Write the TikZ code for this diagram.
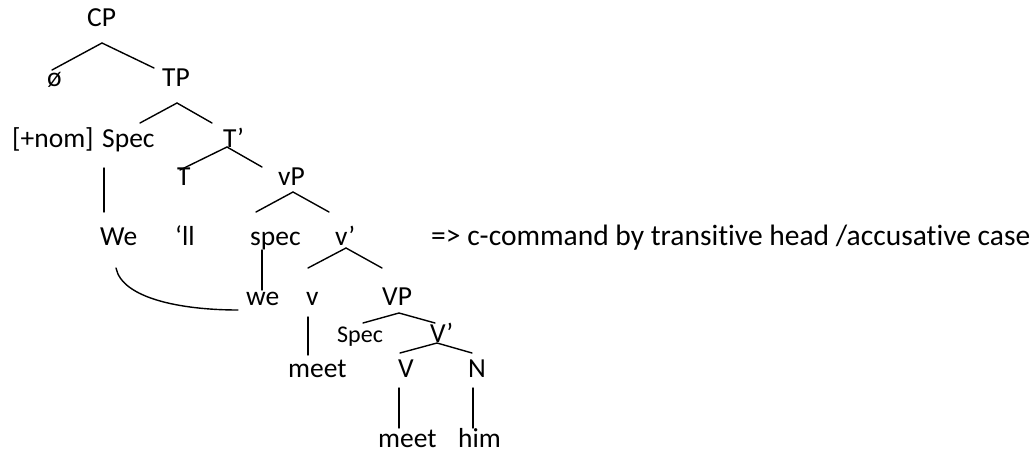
\documentclass[tikz,border=0pt]{standalone}
\usepackage{fontspec}
\setmainfont{Carlito}[Ligatures={NoCommon,TeX}]
\begin{document}
\begin{tikzpicture}[x=1pt,y=-1pt,
  lbl/.style={anchor=base west,inner sep=0pt,font=\fontsize{27.5}{32}\selectfont},
  nlbl/.style={anchor=base west,inner sep=0pt,font=\fontsize{29.5}{34}\selectfont},
  slbl/.style={anchor=base west,inner sep=0pt,font=\fontsize{24}{28}\selectfont},
  br/.style={line width=1.4pt,line cap=round}]
\useasboundingbox (0,0) rectangle (1034,452);
% labels
\node[lbl] (CP) at (87,27) {CP};
\node[lbl] (empty) at (47,87) {ø};
\node[lbl] (TP) at (162,87) {TP};
\node[lbl] (nom) at (12,147) {[+nom]};
\node[lbl] (Spec) at (102,147) {Spec};
\node[lbl] (Tbar) at (223,147) {T’};
\node[lbl] (T) at (177,185) {T};
\node[lbl] (vP) at (278,185) {vP};
\node[lbl] (We) at (100,245) {We};
\node[lbl] (ll) at (175,245) {‘ll};
\node[lbl] (spec) at (250,245) {spec};
\node[lbl] (vbar) at (335,245) {v’};
\node[nlbl] (note) at (431,245) {=> c-command by transitive head /accusative case};
\node[lbl] (we) at (246,305) {we};
\node[lbl] (v) at (306,305) {v};
\node[lbl] (VP) at (382,305) {VP};
\node[slbl] (Spec2) at (337,342) {Spec};
\node[lbl] (Vbar) at (430,342) {V’};
\node[lbl] (meet1) at (288,377) {meet};
\node[lbl] (V) at (398,377) {V};
\node[lbl] (N) at (468,377) {N};
\node[lbl] (meet2) at (378,447) {meet};
\node[lbl] (him) at (458,447) {him};
% branch points
\coordinate (cpA) at (102,43);  \coordinate (cpL) at (52,70);   \coordinate (cpR) at (154,68);
\coordinate (tpA) at (177,103); \coordinate (tpL) at (140,123); \coordinate (tpR) at (212,123);
\coordinate (tbA) at (227,147); \coordinate (tbL) at (180,170); \coordinate (tbR) at (262,167);
\coordinate (spT) at (104,168); \coordinate (spB) at (104,212);
\coordinate (vpA) at (293,192); \coordinate (vpL) at (256,212); \coordinate (vpR) at (329,212);
\coordinate (sT) at (262,250);  \coordinate (sB) at (262,290);
\coordinate (vbA) at (346,248); \coordinate (vbL) at (308,268); \coordinate (vbR) at (382,268);
\coordinate (VPA) at (399,313); \coordinate (VPL) at (363,323); \coordinate (VPR) at (435,323);
\coordinate (VbA) at (437,343); \coordinate (VbL) at (400,353); \coordinate (VbR) at (472,353);
\coordinate (vT) at (308,317);  \coordinate (vB) at (308,355);
\coordinate (VT) at (399,388);  \coordinate (VB) at (399,428);
\coordinate (NT) at (473,388);  \coordinate (NB) at (473,428);
\coordinate (cS) at (116,268);  \coordinate (cE) at (238,310);
% connectors
\draw[br] (cpL) -- (cpA) -- (cpR);
\draw[br] (tpL) -- (tpA) -- (tpR);
\draw[br] (tbL) -- (tbA) -- (tbR);
\draw[br] (spT) -- (spB);
\draw[br] (vpL) -- (vpA) -- (vpR);
\draw[br] (sT) -- (sB);
\draw[br] (vbL) -- (vbA) -- (vbR);
\draw[br] (VPL) -- (VPA) -- (VPR);
\draw[br] (VbL) -- (VbA) -- (VbR);
\draw[br] (vT) -- (vB);
\draw[br] (VT) -- (VB);
\draw[br] (NT) -- (NB);
\draw[br] (cS) .. controls (122,298) and (180,310) .. (cE);
\end{tikzpicture}
\end{document}
